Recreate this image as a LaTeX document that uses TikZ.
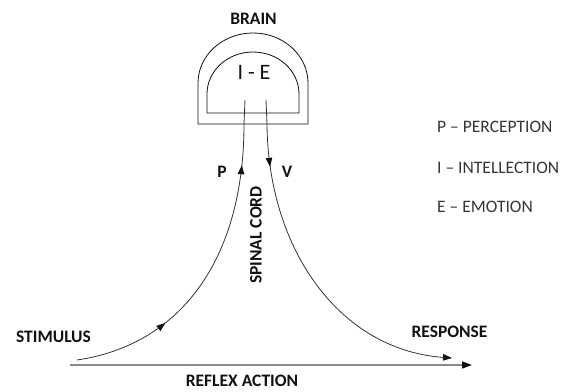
\documentclass[tikz,border=0pt]{standalone}
\usepackage{fontspec}
\setmainfont{Carlito}
\usetikzlibrary{arrows.meta,decorations.markings}
\definecolor{ink}{HTML}{111111}
\definecolor{nerve}{HTML}{333333}
\definecolor{reflexc}{HTML}{8A8A8A}

\tikzset{
  lbl/.style={font=\fontsize{17.5}{19}\selectfont\bfseries, color=ink, inner sep=0},
  key/.style={font=\fontsize{17.5}{20}\selectfont, color=ink!85, anchor=west, inner sep=0},
  midarrow/.style={postaction={decorate,decoration={markings,
    mark=at position #1 with {\arrow[ink]{Triangle[length=9pt,width=6.5pt]}}}}}
}

\begin{document}
\begin{tikzpicture}[x=1pt, y=1pt]
\useasboundingbox (0,0) rectangle (573,391);

\def\lx{437}    % left edge of the key

% ---- brain
\node[lbl] (brain) at (253.5,372.5) {BRAIN};
\draw[ink, line width=0.8pt] (198,267) -- (198,308)
  arc[start angle=180, end angle=0, x radius=55, y radius=50] -- (308,267) -- cycle;
\draw[ink, line width=0.8pt] (207,278) -- (207,297)
  arc[start angle=180, end angle=0, x radius=46, y radius=42] -- (299,278) -- cycle;
\node[font=\fontsize{22}{24}\selectfont, color=ink, inner sep=0] (ie) at (254,319) {I - E};

% ---- nerve ends
\coordinate (stim0) at (77,31);
\coordinate (pin)   at (244,267);
\coordinate (ptop)  at (245,291);
\coordinate (vtop)  at (266,291);
\coordinate (vout)  at (267,267);
\coordinate (resp0) at (452,33);
\coordinate (rfl0)  at (70,26);
\coordinate (rfl1)  at (472,26);

% sensory path, up
\draw[nerve, line width=0.8pt, midarrow=97pt, midarrow=277pt]
  (stim0) .. controls (180,46) and (244,131) .. (pin) -- (ptop);
% motor path, down
\draw[nerve, line width=0.8pt, midarrow=67pt, -{Triangle[length=9pt,width=6.5pt,color=ink]}]
  (vtop) -- (vout) .. controls (268,141) and (340,41) .. (resp0);
% reflex, straight across
\draw[reflexc, line width=1.6pt, -{Triangle[length=10pt,width=7pt,color=ink]}]
  (rfl0) -- (rfl1);

% ---- labels
\node[lbl] (p) at (222,219) {P};
\node[lbl] (v) at (287,219) {V};
\node[lbl, rotate=90] (cord) at (256,156) {SPINAL CORD};
\node[lbl] (stim) at (53.5,54) {STIMULUS};
\node[lbl] (resp) at (449.5,59) {RESPONSE};
\node[lbl] (reflex) at (242,10) {REFLEX ACTION};

% ---- key
\node[key] (kp) at (\lx,264) {P -- PERCEPTION};
\node[key] (ki) at (\lx,223) {I -- INTELLECTION};
\node[key] (ke) at (\lx,184) {E -- EMOTION};

\end{tikzpicture}
\end{document}
